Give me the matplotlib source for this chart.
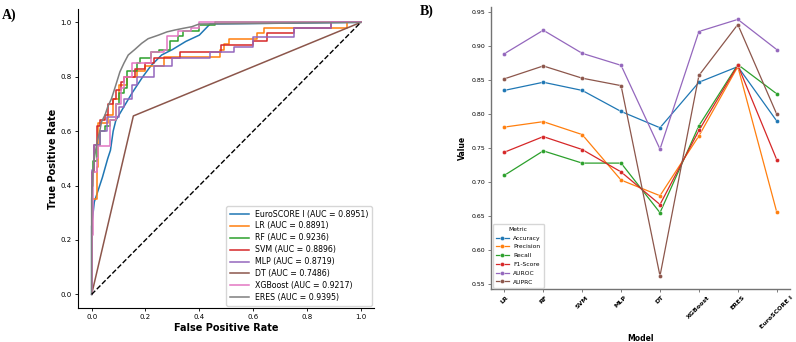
import matplotlib
matplotlib.use('Agg')
import matplotlib.pyplot as plt

# ---- panel A: ROC curves (corner points) ----
roc_names = ['EuroSCORE I', 'LR', 'RF', 'SVM', 'MLP', 'DT', 'XGBoost', 'ERES']
roc_auc = [0.8951, 0.8891, 0.9236, 0.8896, 0.8719, 0.7486, 0.9217, 0.9395]

euro_fpr = [0, 0, 0.01, 0.02, 0.04, 0.06, 0.07, 0.08, 0.09, 0.12, 0.15, 0.19, 0.22, 0.26, 0.30, 0.35, 0.40, 0.44, 1.0]
euro_tpr = [0, 0.25, 0.34, 0.37, 0.43, 0.50, 0.53, 0.60, 0.64, 0.69, 0.74, 0.80, 0.84, 0.88, 0.90, 0.93, 0.953, 0.994, 1.0]

lr_fpr = [0, 0, 0.02, 0.025, 0.06, 0.08, 0.10, 0.13, 0.17, 0.20, 0.27, 0.477, 0.49, 0.51, 0.613, 0.64, 0.95, 1.0]
lr_tpr = [0, 0.35, 0.47, 0.63, 0.66, 0.72, 0.77, 0.80, 0.82, 0.84, 0.874, 0.90, 0.92, 0.94, 0.96, 0.98, 1.0, 1.0]

rf_fpr = [0, 0, 0.005, 0.02, 0.03, 0.05, 0.07, 0.09, 0.10, 0.12, 0.13, 0.17, 0.18, 0.22, 0.25, 0.29, 0.32, 0.34, 0.40, 0.46, 1.0]
rf_tpr = [0, 0.40, 0.49, 0.55, 0.60, 0.62, 0.64, 0.70, 0.74, 0.76, 0.82, 0.85, 0.87, 0.89, 0.90, 0.93, 0.95, 0.97, 0.99, 1.0, 1.0]

svm_fpr = [0, 0, 0.01, 0.019, 0.03, 0.05, 0.06, 0.08, 0.09, 0.11, 0.12, 0.16, 0.20, 0.23, 0.33, 0.48, 0.60, 0.65, 0.75, 0.89, 1.0]
svm_tpr = [0, 0.45, 0.55, 0.62, 0.64, 0.66, 0.70, 0.72, 0.75, 0.78, 0.80, 0.83, 0.85, 0.87, 0.89, 0.917, 0.93, 0.96, 0.98, 1.0, 1.0]

mlp_fpr = [0, 0, 0.01, 0.03, 0.056, 0.10, 0.12, 0.15, 0.17, 0.23, 0.30, 0.44, 0.53, 0.60, 0.75, 0.89, 1.0]
mlp_tpr = [0, 0.457, 0.55, 0.60, 0.653, 0.69, 0.72, 0.77, 0.80, 0.84, 0.87, 0.89, 0.91, 0.947, 0.98, 1.0, 1.0]

dt_fpr = [0, 0.155, 1.0]
dt_tpr = [0, 0.656, 1.0]

xgb_fpr = [0, 0, 0.006, 0.02, 0.025, 0.068, 0.09, 0.11, 0.12, 0.15, 0.22, 0.27, 0.28, 0.32, 0.37, 0.40, 1.0]
xgb_tpr = [0, 0.22, 0.45, 0.50, 0.547, 0.64, 0.70, 0.76, 0.80, 0.85, 0.89, 0.90, 0.95, 0.97, 0.98, 1.0, 1.0]

eres_fpr = [0, 0, 0.005, 0.01, 0.02, 0.03, 0.037, 0.05, 0.06, 0.074, 0.09, 0.105, 0.12, 0.136, 0.16, 0.186, 0.21, 0.248, 0.28, 0.31, 0.34, 0.372, 0.40, 1.0]
eres_tpr = [0, 0.35, 0.45, 0.50, 0.56, 0.60, 0.635, 0.66, 0.69, 0.72, 0.77, 0.818, 0.85, 0.88, 0.90, 0.923, 0.94, 0.953, 0.965, 0.972, 0.978, 0.984, 0.994, 1.0]

roc_fpr = [euro_fpr, lr_fpr, rf_fpr, svm_fpr, mlp_fpr, dt_fpr, xgb_fpr, eres_fpr]
roc_tpr = [euro_tpr, lr_tpr, rf_tpr, svm_tpr, mlp_tpr, dt_tpr, xgb_tpr, eres_tpr]
roc_colors = ['#1f77b4', '#ff7f0e', '#2ca02c', '#d62728', '#9467bd', '#8c564b', '#e377c2', '#7f7f7f']
roc_steps = [False, True, True, True, True, False, True, False]

# ---- panel B: metrics per model ----
models = ['LR', 'RF', 'SVM', 'MLP', 'DT', 'XGBoost', 'ERES', 'EuroSCORE I']
accuracy = [0.835, 0.847, 0.835, 0.804, 0.780, 0.847, 0.870, 0.790]
precision = [0.781, 0.789, 0.770, 0.703, 0.680, 0.768, 0.870, 0.656]
recall = [0.710, 0.746, 0.728, 0.728, 0.655, 0.783, 0.873, 0.830]
f1_score = [0.744, 0.767, 0.748, 0.715, 0.667, 0.776, 0.872, 0.733]
auroc = [0.889, 0.9236, 0.8896, 0.8719, 0.7486, 0.9217, 0.9395, 0.8951]
auprc = [0.852, 0.871, 0.853, 0.842, 0.562, 0.857, 0.932, 0.800]
metric_names = ['Accuracy', 'Precision', 'Recall', 'F1-Score', 'AUROC', 'AUPRC']
metric_vals = [accuracy, precision, recall, f1_score, auroc, auprc]
metric_colors = ['#1f77b4', '#ff7f0e', '#2ca02c', '#d62728', '#9467bd', '#8c564b']

fig = plt.figure(figsize=(7.96, 3.42), dpi=100)

# 左图 ROC
ax1 = fig.add_axes([0.0982, 0.0994, 0.372, 0.875])
for i in range(len(roc_names)):
    ds = 'steps-post' if roc_steps[i] else 'default'
    ax1.plot(roc_fpr[i], roc_tpr[i], color=roc_colors[i], lw=1.1, drawstyle=ds,
             label=f'{roc_names[i]} (AUC = {roc_auc[i]:.4f})')
ax1.plot([0, 1], [0, 1], 'k--', lw=1)
ax1.set_xlim(-0.05, 1.05)
ax1.set_ylim(-0.05, 1.05)
ax1.set_xticks([0, 0.2, 0.4, 0.6, 0.8, 1.0])
ax1.set_yticks([0, 0.2, 0.4, 0.6, 0.8, 1.0])
ax1.tick_params(labelsize=5, length=2.5, width=0.6, pad=2)
ax1.set_xlabel('False Positive Rate', fontsize=7, fontweight='bold', labelpad=2)
ax1.set_ylabel('True Positive Rate', fontsize=7, fontweight='bold', labelpad=2)
for s in ['top', 'right']:
    ax1.spines[s].set_visible(False)
for s in ['left', 'bottom']:
    ax1.spines[s].set_linewidth(0.8)
ax1.legend(loc='lower right', fontsize=5.7, frameon=True, handlelength=2.4,
           borderpad=0.45, labelspacing=0.37, borderaxespad=0.3)

# 右图 指标折线
ax2 = fig.add_axes([0.6165, 0.154, 0.3764, 0.826])
x = list(range(len(models)))
for name, vals, c in zip(metric_names, metric_vals, metric_colors):
    ax2.plot(x, vals, color=c, lw=0.9, marker='o', markersize=3,
             markeredgecolor='white', markeredgewidth=0.3, label=name)
ax2.set_xticks(x)
ax2.set_xticklabels(models, rotation=45, fontweight='bold')
ax2.set_ylim(0.5422, 0.958)
ax2.set_xlim(-0.35, 7.35)
ax2.set_yticks([0.55, 0.60, 0.65, 0.70, 0.75, 0.80, 0.85, 0.90, 0.95])
ax2.set_yticklabels(['0.55', '0.60', '0.65', '0.70', '0.75', '0.80', '0.85', '0.90', '0.95'])
ax2.tick_params(labelsize=4.5, length=2, width=0.6, pad=2, color='0.4')
ax2.set_xlabel('Model', fontsize=5.5, fontweight='bold', labelpad=3)
ax2.set_ylabel('Value', fontsize=5.5, fontweight='bold', labelpad=3)
for s in ['top', 'right']:
    ax2.spines[s].set_visible(False)
for s in ['left', 'bottom']:
    ax2.spines[s].set_linewidth(1.0)
    ax2.spines[s].set_color('0.45')
ax2.legend(title='Metric', loc='lower left', fontsize=4.3, title_fontsize=4.3,
           handlelength=2.2, labelspacing=0.6, borderpad=0.5, borderaxespad=0.3)

fig.text(0.002, 0.945, 'A)', fontsize=10, fontweight='bold', family='Liberation Serif')
fig.text(0.527, 0.957, 'B)', fontsize=10, fontweight='bold', family='Liberation Serif')

fig.savefig('out.png', dpi=100)
